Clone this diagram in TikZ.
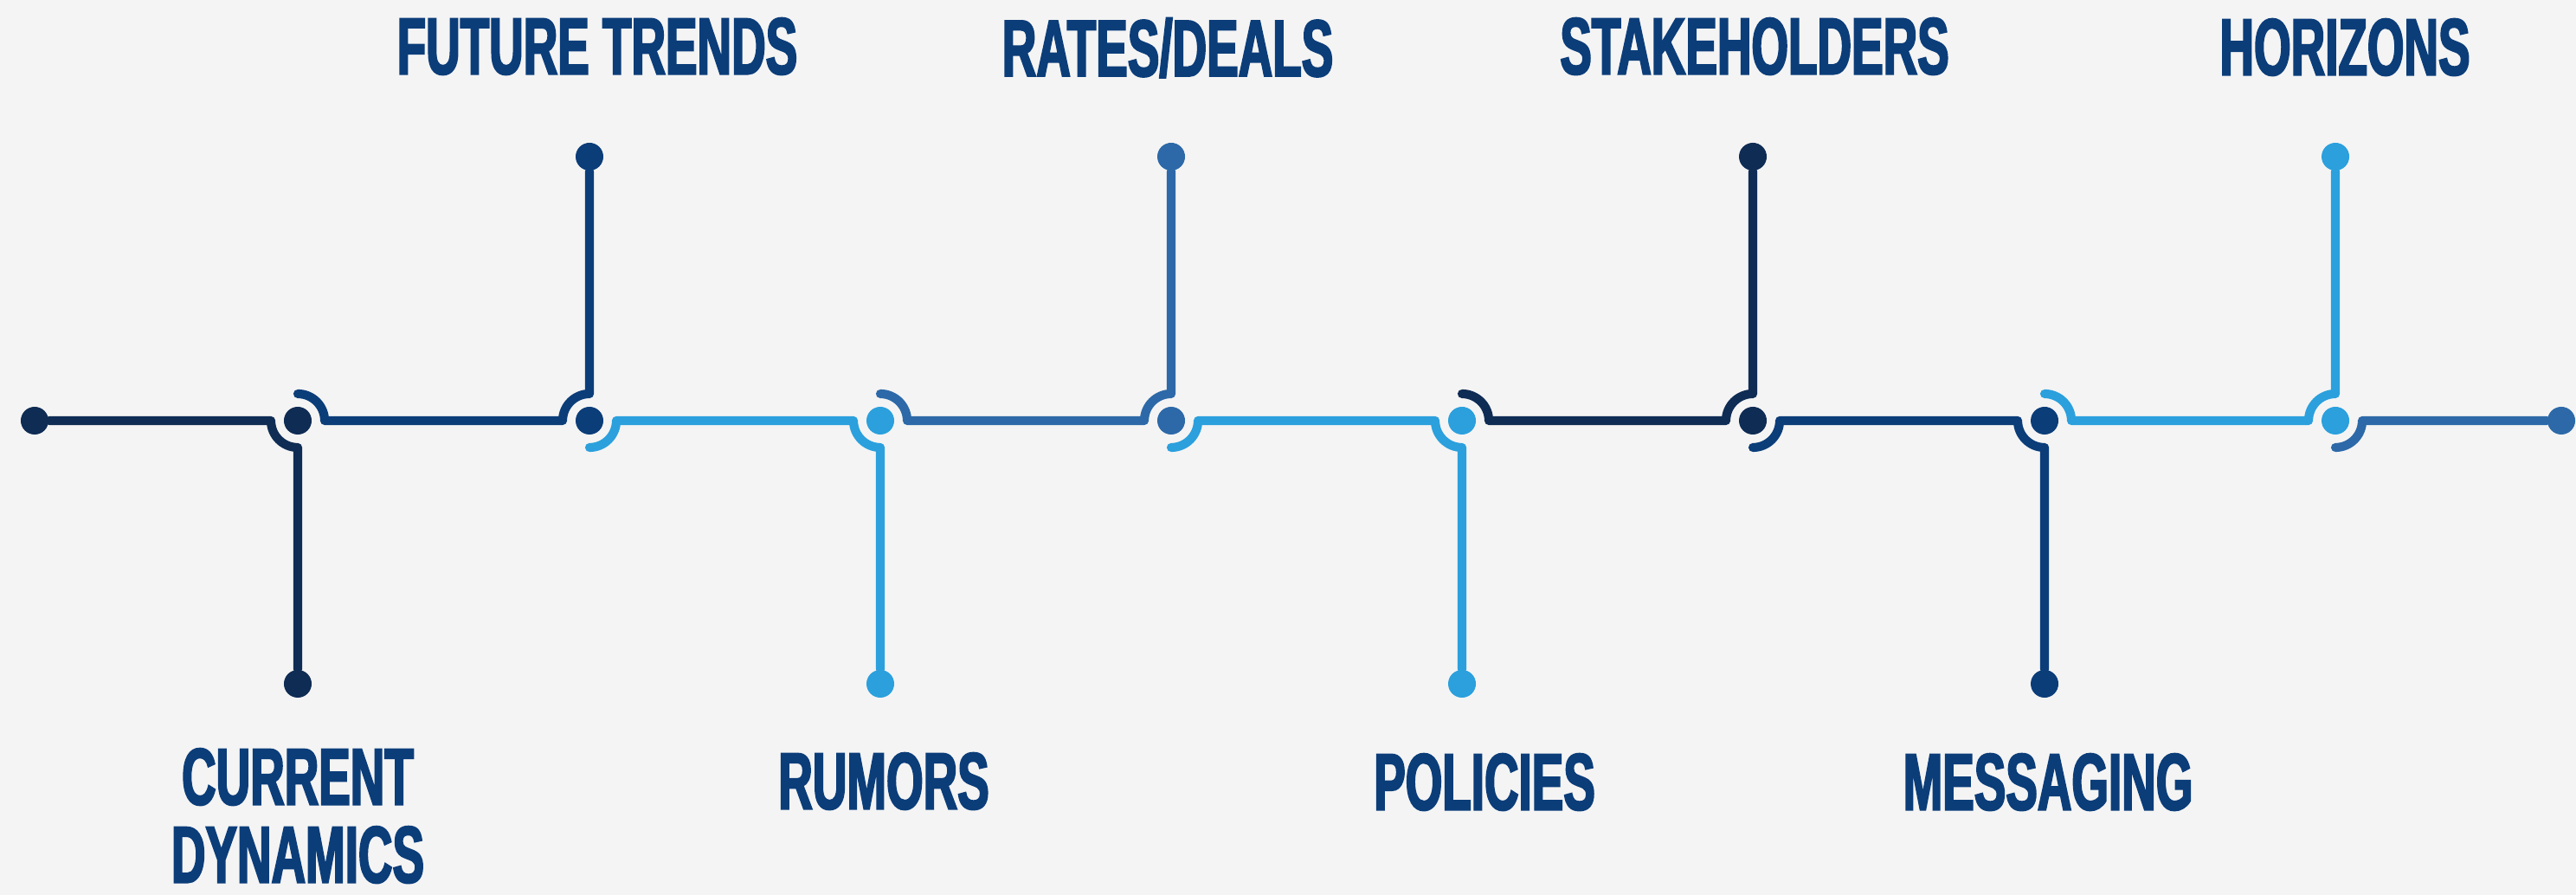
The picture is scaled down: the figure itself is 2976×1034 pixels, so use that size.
\documentclass[tikz,border=0pt]{standalone}
\usepackage{fontspec}
\usetikzlibrary{calc}
\newfontfamily\labfam{Liberation Sans}[FakeStretch=0.59, FakeBold=2.2]
\newcommand{\labfont}{\labfam\bfseries\fontsize{26.4pt}{25.6pt}\selectfont}
\definecolor{cdark}{HTML}{0F2C54}
\definecolor{cnavy}{HTML}{0B3D79}
\definecolor{cmed}{HTML}{2D69A8}
\definecolor{clight}{HTML}{2BA0DD}
\definecolor{txtc}{HTML}{0B3D79}
\definecolor{bgc}{HTML}{F4F4F4}
\tikzset{
  wire/.style={line width=2.9pt, line cap=round, line join=round},
  dot/.style={circle, fill, inner sep=0pt, minimum size=0.32cm},
  lab/.style={text=txtc, font=\labfont, inner sep=0pt, anchor=north, align=center},
  rr/.style={radius=0.31cm}
}
\begin{document}
\begin{tikzpicture}[x=0.01cm, y=0.01cm]
\fill[bgc] (0,0) rectangle (2976,1034);
\useasboundingbox (0,0) rectangle (2976,1034);
% main dots
\node[dot, cdark]  (e0) at (40,548) {};
\node[dot, cdark]  (j1) at (344,548) {};
\node[dot, cnavy]  (j2) at (681,548) {};
\node[dot, clight] (j3) at (1017,548) {};
\node[dot, cmed]   (j4) at (1353,548) {};
\node[dot, clight] (j5) at (1689,548) {};
\node[dot, cdark]  (j6) at (2025,548) {};
\node[dot, cnavy]  (j7) at (2362,548) {};
\node[dot, clight] (j8) at (2698,548) {};
\node[dot, cmed]   (e9) at (2959,548) {};
% branch end dots
\node[dot, cdark]  (b1) at (344,244) {};
\node[dot, cnavy]  (t2) at (681,853) {};
\node[dot, clight] (b3) at (1017,244) {};
\node[dot, cmed]   (t4) at (1353,853) {};
\node[dot, clight] (b5) at (1689,244) {};
\node[dot, cdark]  (t6) at (2025,853) {};
\node[dot, cnavy]  (b7) at (2362,244) {};
\node[dot, clight] (t8) at (2698,853) {};
% wires
\draw[wire, cdark] (e0) -- ($(j1)+(-31,0)$) arc[start angle=180, end angle=270, rr] -- (b1);
\draw[wire, cnavy] ($(j1)+(0,31)$) arc[start angle=90, end angle=0, rr] -- ($(j2)+(-31,0)$) arc[start angle=180, end angle=90, rr] -- (t2);
\draw[wire, clight] ($(j2)+(0,-31)$) arc[start angle=270, end angle=360, rr] -- ($(j3)+(-31,0)$) arc[start angle=180, end angle=270, rr] -- (b3);
\draw[wire, cmed] ($(j3)+(0,31)$) arc[start angle=90, end angle=0, rr] -- ($(j4)+(-31,0)$) arc[start angle=180, end angle=90, rr] -- (t4);
\draw[wire, clight] ($(j4)+(0,-31)$) arc[start angle=270, end angle=360, rr] -- ($(j5)+(-31,0)$) arc[start angle=180, end angle=270, rr] -- (b5);
\draw[wire, cdark] ($(j5)+(0,31)$) arc[start angle=90, end angle=0, rr] -- ($(j6)+(-31,0)$) arc[start angle=180, end angle=90, rr] -- (t6);
\draw[wire, cnavy] ($(j6)+(0,-31)$) arc[start angle=270, end angle=360, rr] -- ($(j7)+(-31,0)$) arc[start angle=180, end angle=270, rr] -- (b7);
\draw[wire, clight] ($(j7)+(0,31)$) arc[start angle=90, end angle=0, rr] -- ($(j8)+(-31,0)$) arc[start angle=180, end angle=90, rr] -- (t8);
\draw[wire, cmed] ($(j8)+(0,-31)$) arc[start angle=270, end angle=360, rr] -- (e9);
% labels
\node[lab] (l2) at (690,1014) {FUTURE TRENDS};
\node[lab] (l4) at (1349,1014) {RATES/DEALS};
\node[lab] (l6) at (2027,1014) {STAKEHOLDERS};
\node[lab] (l8) at (2709,1013) {HORIZONS};
\node[lab, text depth=0pt] (l1) at (344,170) {CURRENT\\DYNAMICS\vphantom{}};
\node[lab] (l3) at (1021,165) {RUMORS};
\node[lab] (l5) at (1715,164) {POLICIES};
\node[lab] (l7) at (2366,164) {MESSAGING};
\end{tikzpicture}
\end{document}
